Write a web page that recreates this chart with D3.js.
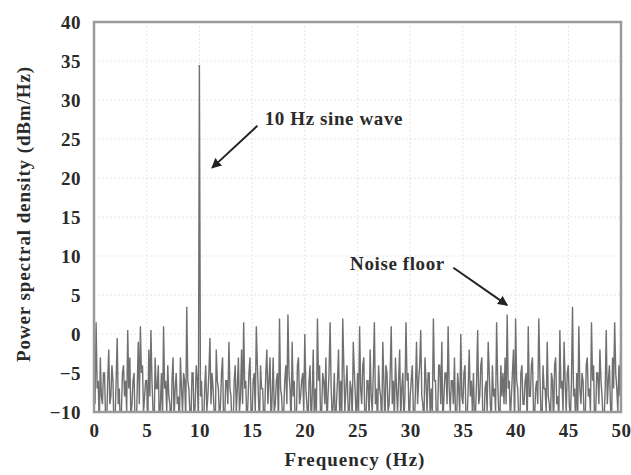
<!DOCTYPE html>
<html>
<head>
<meta charset="utf-8">
<title>PSD</title>
<script src="https://d3js.org/d3.v7.min.js"></script>
<style>
body { margin: 0; background: #fff; }
text { font-family: "Liberation Serif", "Times New Roman", serif; fill: #2a2a2a; }
</style>
</head>
<body>
<div class="chart"></div>
<script>
// frequency step of the spectrum (Hz)
var step = 0.1;

// power spectral density, dBm/Hz, one row per Hz (10 bins each)
var psd = [
  -4, -9, 1.5, -7, -6, -12, -3, -8, -9, -5,
  -5, -11, -12, -6, -2, -9, -8, -4, -6, -13,
  -11, -6, -0.5, -9, -7, -12, -10, -5, -4, -8,
  -6, -10, 0.5, -7, -3, -11, -9, -6, -5, -12,
  -13, -7, -1, -9, 1, -5, -4, -10, -8, -6,
  -6, -12, -2, -8, 0.5, -6, -10, -13, -3, -7,
  -7, -4, -12, -9, -5, -11, 1, -7, -6, -10,
  -4, -8, -9, -13, -6, -3, -11, -7, -5, -9,
  -8, -12, -3, -7, -10, -5, -6, -11, 3.5, -6,
  -7, -10, -11, -5, -5, -12, -9, -4, -6, -11,
  34.5, -8, -6, -11, -12, -7, -4, -10, -8, -5,
  -0.5, -9, -5, -7, -10, -13, -2, -6, -7, -11,
  -9, -5, -3, -12, -11, -6, -6, -9, -1, -7,
  -8, -13, -12, -6, -4, -10, -7, -3, -10, -8,
  -2, -9, 1.5, -7, -6, -12, -9, -5, -3, -10,
  -11, -6, -5, -10, 1, -4, -8, -12, -4, -7,
  -7, -11, -10, -5, -2, -9, -6, -3, -12, -8,
  -3, -10, -9, -6, -5, -12, 2, -7, -8, -11,
  -10, -6, -4, -9, 2.5, -5, -7, -12, -1, -8,
  -6, -13, -11, -4, -3, -9, -8, -6, -5, -10,
  0, -7, -9, -12, -6, -4, -12, -8, -2, -11,
  -7, -10, 2, -6, -4, -11, -10, -5, -6, -9,
  -3, -12, -8, -5, 1.5, -7, -11, -9, -5, -13,
  -9, -6, -2, -10, -6, -12, 2, -4, -10, -7,
  -4, -9, -12, -6, -7, -11, -1, -5, -8, -12,
  -5, -10, 1, -7, -9, -4, -3, -12, -11, -6,
  -6, -11, -2, -8, -10, -5, 1.5, -9, -7, -12,
  -4, -7, -8, -12, -1, -6, -12, -4, -5, -10,
  -9, -5, 1, -9, -6, -11, -3, -7, -10, -6,
  -2, -11, -7, -5, -11, -8, 1.5, -6, -5, -12,
  -8, -6, -4, -10, -12, -7, -1, -9, -6, -4,
  0.5, -8, -9, -12, -3, -6, -10, -5, -5, -11,
  -7, -10, 2, -6, -6, -12, -11, -4, -4, -9,
  -1, -12, -8, -5, -5, -9, 1, -7, -10, -6,
  -6, -9, -3, -11, -12, -5, -7, -10, 0, -8,
  -9, -5, -4, -12, -11, -7, -2, -8, -6, -10,
  -5, -11, -10, -6, 0.5, -9, -8, -4, -3, -12,
  -12, -7, -6, -10, -1, -5, -9, -11, -4, -8,
  -7, -10, 1.5, -6, -10, -12, -4, -8, -5, -9,
  -3, -9, 2.5, -7, -6, -11, -8, -5, -2, -12,
  2, -6, -7, -11, -12, -5, -4, -9, -9, -6,
  -5, -12, 1, -8, -8, -4, -3, -10, -11, -7,
  -6, -9, 2, -5, -10, -12, -4, -7, -7, -10,
  -1, -8, -9, -12, -5, -6, -12, -4, -3, -9,
  -8, -11, 0.5, -7, -6, -10, -1, -6, -10, -5,
  -4, -9, -11, -6, 3.5, -8, -7, -12, -5, -10,
  1, -7, -9, -5, -6, -11, -12, -4, -3, -8,
  -7, -10, 1.5, -6, -4, -12, -10, -5, -5, -9,
  -2, -6, -8, -11, -11, -7, 0.5, -9, -6, -4,
  -9, -12, -3, -7, 1.5, -5, -7, -10, -4, -8,
  1.5
];

var xTicks = [0, 5, 10, 15, 20, 25, 30, 35, 40, 45, 50];
var yTicks = [-10, -5, 0, 5, 10, 15, 20, 25, 30, 35, 40];

var notes = [
  { text: "10 Hz sine wave", f: 16.2, db: 27.7, f0: 15.5, db0: 26.7, f1: 11.2, db1: 21.3 },
  { text: "Noise floor", f: 24.3, db: 9.0, f0: 34.1, db0: 8.5, f1: 39.2, db1: 3.7 }
];

var data = psd.map(function(v, i) { return { f: i * step, db: v }; });

var W = 631, H = 475;
var margin = {top: 22, right: 10, bottom: 63, left: 94},
    width = W - margin.left - margin.right,
    height = H - margin.top - margin.bottom;

var svg = d3.select(".chart").append("svg")
    .attr("width", W)
    .attr("height", H);

var g = svg.append("g")
    .attr("transform", "translate(" + margin.left + "," + margin.top + ")");

var x = d3.scaleLinear().domain([0, 50]).range([0, width]);
var y = d3.scaleLinear().domain([-10, 40]).range([height, 0]);

svg.append("defs").append("clipPath").attr("id", "clip")
  .append("rect").attr("width", width).attr("height", height);

// faint grid
g.append("g").selectAll("line").data(xTicks.slice(1, -1)).enter().append("line")
    .attr("x1", function(d) { return x(d); }).attr("x2", function(d) { return x(d); })
    .attr("y1", 0).attr("y2", height)
    .attr("stroke", "#e6e6e6").attr("stroke-dasharray", "2,2");
g.append("g").selectAll("line").data(yTicks.slice(1, -1)).enter().append("line")
    .attr("y1", function(d) { return y(d); }).attr("y2", function(d) { return y(d); })
    .attr("x1", 0).attr("x2", width)
    .attr("stroke", "#e6e6e6").attr("stroke-dasharray", "2,2");

// spectrum
var line = d3.line()
    .x(function(d) { return x(d.f); })
    .y(function(d) { return y(d.db); });

g.append("path")
    .datum(data)
    .attr("clip-path", "url(#clip)")
    .attr("fill", "none")
    .attr("stroke", "#707070")
    .attr("stroke-width", 1.4)
    .attr("d", line);

// axes
var xAxis = g.append("g")
    .attr("transform", "translate(0," + height + ")")
    .call(d3.axisBottom(x).tickValues(xTicks).tickSize(0).tickPadding(12));
var yAxis = g.append("g")
    .call(d3.axisLeft(y).tickValues(yTicks).tickSize(0).tickPadding(13)
      .tickFormat(function(d) { return d < 0 ? "\u2212" + Math.abs(d) : d; }));
[xAxis, yAxis].forEach(function(a) {
  a.select(".domain").remove();
  a.selectAll("text")
    .style("font-size", "19px")
    .style("font-family", "Liberation Serif, serif")
    .style("font-weight", "bold")
    .style("letter-spacing", "0.5px")
    .attr("fill", "#333");
});

// frame
g.append("rect")
    .attr("width", width).attr("height", height)
    .attr("fill", "none")
    .attr("stroke", "#9a9a9a")
    .attr("stroke-width", 2.5);

// annotations
svg.select("defs").append("marker")
    .attr("id", "head")
    .attr("viewBox", "0 0 10 10").attr("refX", 9).attr("refY", 5)
    .attr("markerWidth", 5).attr("markerHeight", 5)
    .attr("orient", "auto")
  .append("path").attr("d", "M0,0L10,5L0,10z").attr("fill", "#222");

notes.forEach(function(n) {
  g.append("text")
      .attr("x", x(n.f)).attr("y", y(n.db))
      .attr("dy", "0.35em")
      .style("font-size", "19px")
      .style("font-weight", "bold")
      .style("letter-spacing", "0.6px")
      .attr("fill", "#333")
      .text(n.text);
  g.append("line")
      .attr("x1", x(n.f0)).attr("y1", y(n.db0))
      .attr("x2", x(n.f1)).attr("y2", y(n.db1))
      .attr("stroke", "#222").attr("stroke-width", 2)
      .attr("marker-end", "url(#head)");
});

// axis titles
svg.append("text")
    .attr("x", 355).attr("y", 466)
    .attr("text-anchor", "middle")
    .style("font-size", "19px")
    .style("font-weight", "bold")
    .style("letter-spacing", "1px")
    .attr("fill", "#333")
    .text("Frequency (Hz)");
svg.append("text")
    .attr("transform", "translate(23," + 214 + ") rotate(-90)")
    .attr("text-anchor", "middle")
    .attr("dy", "0.35em")
    .style("font-size", "19px")
    .style("font-weight", "bold")
    .style("letter-spacing", "0.9px")
    .attr("fill", "#333")
    .text("Power spectral density (dBm/Hz)");
</script>
</body>
</html>
